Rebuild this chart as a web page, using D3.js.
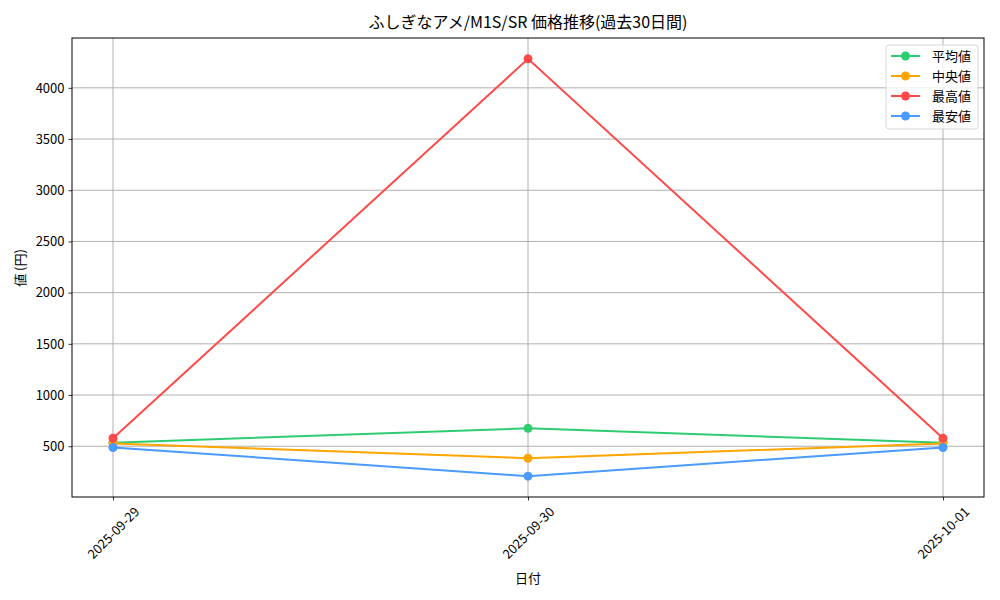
<!DOCTYPE html>
<html>
<head>
<meta charset="utf-8">
<script src="https://cdn.jsdelivr.net/npm/d3@7/dist/d3.min.js"></script>
<style>
  body { margin: 0; background: #fff; }
  text { font-family: "Noto Sans CJK JP", sans-serif; fill: #000; }
</style>
</head>
<body>
<script>
const dates = ["2025-09-29", "2025-09-30", "2025-10-01"];
const avgValues = [535, 675, 535];
const medianValues = [527, 383, 527];
const maxValues = [578, 4283, 578];
const minValues = [488, 208, 488];
const yTicks = [500, 1000, 1500, 2000, 2500, 3000, 3500, 4000];

const series = [
  { name: "平均値", values: avgValues, color: "#2ecc71" },
  { name: "中央値", values: medianValues, color: "#ffa500" },
  { name: "最高値", values: maxValues, color: "#ff4a4a" },
  { name: "最安値", values: minValues, color: "#4a9aff" }
];

const W = 1000, H = 600;
const m = { left: 72, right: 16, top: 38, bottom: 103 };

const svg = d3.select("body").append("svg")
  .attr("width", W).attr("height", H);

// matplotlib-like 5% margins on both axes
const x = d3.scalePoint().domain(dates).range([113, 943]);
const allVals = series.flatMap((s) => s.values);
const lo = d3.min(allVals), hi = d3.max(allVals), pad = (hi - lo) * 0.05;
const y = d3.scaleLinear().domain([lo - pad, hi + pad]).range([H - m.bottom, m.top]);

// grid
svg.append("g").attr("stroke", "#b0b0b0").attr("stroke-width", 1)
  .selectAll("line").data(yTicks).join("line")
  .attr("x1", m.left).attr("x2", W - m.right)
  .attr("y1", (d) => y(d)).attr("y2", (d) => y(d));
svg.append("g").attr("stroke", "#b0b0b0").attr("stroke-width", 1)
  .selectAll("line").data(dates).join("line")
  .attr("x1", (d) => x(d)).attr("x2", (d) => x(d))
  .attr("y1", m.top).attr("y2", H - m.bottom);

// axes
const yAxis = svg.append("g")
  .attr("transform", `translate(${m.left},0)`)
  .call(d3.axisLeft(y).tickValues(yTicks).tickFormat(d3.format("d")).tickSize(3.5).tickPadding(4));
const xAxis = svg.append("g")
  .attr("transform", `translate(0,${H - m.bottom})`)
  .call(d3.axisBottom(x).tickSize(3.5).tickPadding(4));
for (const g of [yAxis, xAxis]) {
  g.select(".domain").remove();
  g.selectAll("line").attr("stroke", "#000").attr("stroke-width", 0.8);
  g.selectAll("text").attr("font-size", 13).attr("font-family", "Noto Sans CJK JP");
}
// rotated 45°, bounding box centred under the tick
xAxis.selectAll("text")
  .attr("text-anchor", "middle")
  .attr("y", 0).attr("dy", "0.35em")
  .attr("transform", "translate(0,36) rotate(-45)");

svg.append("rect")
  .attr("x", m.left).attr("y", m.top)
  .attr("width", W - m.left - m.right).attr("height", H - m.top - m.bottom)
  .attr("fill", "none").attr("stroke", "#000").attr("stroke-width", 1);

// lines
const line = d3.line().x((d, i) => x(dates[i])).y((d) => y(d));
for (const s of series) {
  svg.append("path").datum(s.values)
    .attr("d", line).attr("fill", "none")
    .attr("stroke", s.color).attr("stroke-width", 2);
  svg.append("g").selectAll("circle").data(s.values).join("circle")
    .attr("cx", (d, i) => x(dates[i])).attr("cy", (d) => y(d))
    .attr("r", 4.5).attr("fill", s.color);
}

// title and labels
svg.append("text").attr("x", 528).attr("y", 28)
  .attr("text-anchor", "middle").attr("font-size", 16)
  .text("ふしぎなアメ/M1S/SR 価格推移(過去30日間)");
svg.append("text").attr("x", 528).attr("y", 583)
  .attr("text-anchor", "middle").attr("font-size", 13).text("日付");
svg.append("text")
  .attr("transform", "translate(25,268) rotate(-90)")
  .attr("text-anchor", "middle").attr("font-size", 13).text("値 (円)");

// legend
const lg = svg.append("g").attr("transform", "translate(886,45)");
lg.append("rect").attr("width", 92).attr("height", 84).attr("rx", 3)
  .attr("fill", "#fff").attr("fill-opacity", 0.8)
  .attr("stroke", "#d6d6d6");
series.forEach((s, i) => {
  const yy = 11 + i * 20;
  lg.append("line").attr("x1", 5).attr("x2", 34).attr("y1", yy).attr("y2", yy)
    .attr("stroke", s.color).attr("stroke-width", 2);
  lg.append("circle").attr("cx", 19.5).attr("cy", yy).attr("r", 4.5).attr("fill", s.color);
  lg.append("text").attr("x", 46).attr("y", yy).attr("dy", "0.35em")
    .attr("font-size", 13).text(s.name);
});
</script>
</body>
</html>
